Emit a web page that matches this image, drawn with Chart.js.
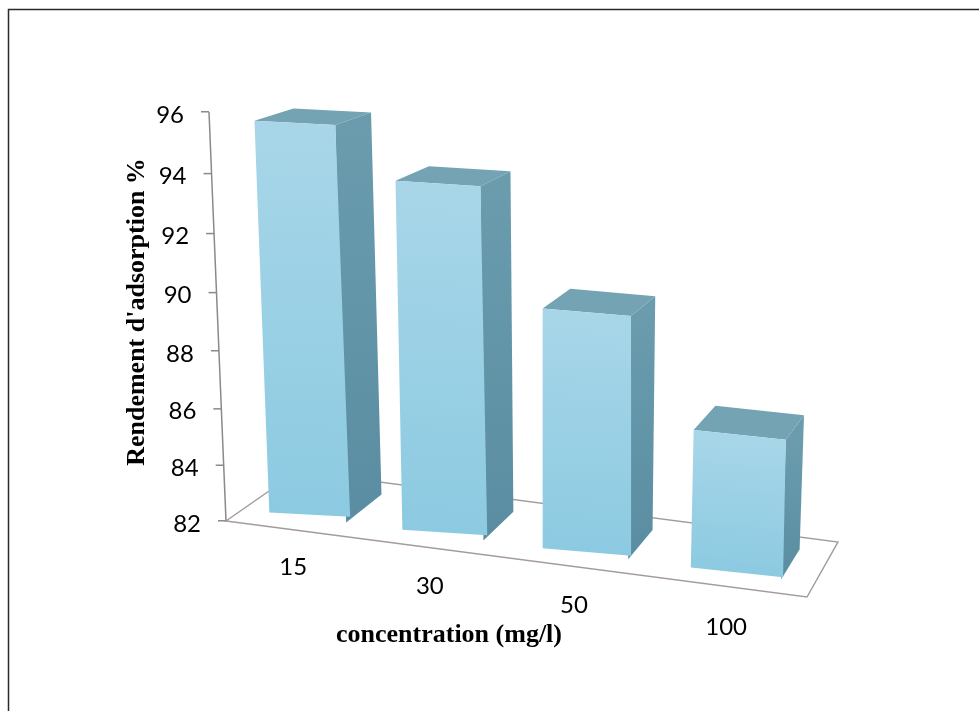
<!DOCTYPE html>
<html>
<head>
<meta charset="utf-8">
<script src="https://cdn.jsdelivr.net/npm/chart.js@4/dist/chart.umd.min.js"></script>
<style>
  html, body { margin: 0; padding: 0; background: #ffffff; }
  #wrap { width: 979px; height: 711px; position: relative; }
</style>
</head>
<body>
<div id="wrap"><canvas id="c" width="979" height="711"></canvas></div>
<script>
// ---- data ----
const categories = ['15', '30', '50', '100'];
const rendement = [95.6, 93.9, 90.1, 86.6];
const yTicks = [82, 84, 86, 88, 90, 92, 94, 96];
const xTitle = 'concentration (mg/l)';
const yTitle = "Rendement d'adsorption %";

// ---- 3-D frame: front plane of the floor / value axis, and the vanishing point of depth ----
const FRAME = {
  q00: [226, 521],   // axis foot (min value, first category side)
  q10: [807, 597],   // floor front-right corner
  q11: [824, 143],   // top right of the front plane
  q01: [209, 112],   // axis top (max value)
  vanish: [1252, -193],
  frontGap: 0.0161,  // depth between floor edge and bar fronts
  barDepth: 0.039,   // depth of each column
  floorDepth: 0.0697,
  labelDrop: 0.0958  // category labels sit below the floor edge
};

const HG = (() => {
  const [x0, y0] = FRAME.q00, [x1, y1] = FRAME.q10, [x2, y2] = FRAME.q11, [x3, y3] = FRAME.q01;
  const dx1 = x1 - x2, dy1 = y1 - y2, dx2 = x3 - x2, dy2 = y3 - y2;
  const dx3 = x0 - x1 + x2 - x3, dy3 = y0 - y1 + y2 - y3;
  const den = dx1 * dy2 - dx2 * dy1;
  const g = (dx3 * dy2 - dx2 * dy3) / den;
  const h = (dx1 * dy3 - dx3 * dy1) / den;
  return { a: x1 - x0 + g * x1, b: x3 - x0 + h * x3, c: x0,
           d: y1 - y0 + g * y1, e: y3 - y0 + h * y3, f: y0, g, h };
})();

// unit square (u along categories, v along values) -> screen
function proj(u, v) {
  const w = HG.g * u + HG.h * v + 1;
  return [(HG.a * u + HG.b * v + HG.c) / w, (HG.d * u + HG.e * v + HG.f) / w];
}
function recede(p, t) {
  return [p[0] + t * (FRAME.vanish[0] - p[0]), p[1] + t * (FRAME.vanish[1] - p[1])];
}
function toUV(chart, px, py) {
  const a = chart.chartArea;
  return [(px - a.left) / (a.right - a.left), (a.bottom - py) / (a.bottom - a.top)];
}

// ---- value axis drawn along the slanted front edge ----
class FrameLinearScale extends Chart.LinearScale {
  _computeLabelItems(area) {
    const items = super._computeLabelItems(area);
    const ca = this.chart.chartArea;
    const tl = this.options.grid.tickLength, pad = this.options.ticks.padding;
    for (const it of items) {
      const o = it.options || it;
      const v = (ca.bottom - o.translation[1]) / (ca.bottom - ca.top);
      const p = proj(0, v);
      o.translation = [p[0] - tl - pad, p[1] + 3];
    }
    return items;
  }
  _computeGridLineItems(area) {
    const items = super._computeGridLineItems(area);
    const ca = this.chart.chartArea;
    const tl = this.options.grid.tickLength;
    for (const it of items) {
      const v = (ca.bottom - it.ty1) / (ca.bottom - ca.top);
      const p = proj(0, v);
      it.tx1 = p[0] - tl; it.tx2 = p[0];
      it.ty1 = p[1]; it.ty2 = p[1];
    }
    return items;
  }
  drawBorder() {
    const b = this.options.border;
    if (!b.display) return;
    const ctx = this.ctx, p0 = proj(0, 0), p1 = proj(0, 1);
    ctx.save();
    ctx.lineWidth = b.width;
    ctx.strokeStyle = b.color;
    ctx.beginPath();
    ctx.moveTo(p0[0], p0[1]);
    ctx.lineTo(p1[0], p1[1]);
    ctx.stroke();
    ctx.restore();
  }
}
FrameLinearScale.id = 'frameLinear';
FrameLinearScale.defaults = Chart.LinearScale.defaults;

// ---- category labels follow the receding floor edge ----
class FrameCategoryScale extends Chart.CategoryScale {
  _computeLabelItems(area) {
    const items = super._computeLabelItems(area);
    const ca = this.chart.chartArea;
    for (const it of items) {
      const o = it.options || it;
      const u = (o.translation[0] - ca.left) / (ca.right - ca.left);
      const p = proj(u, -FRAME.labelDrop);
      o.translation = [p[0], p[1]];
      o.textAlign = 'center';
      o.textBaseline = 'middle';
      it.textOffset = 0;
    }
    return items;
  }
}
FrameCategoryScale.id = 'frameCategory';
FrameCategoryScale.defaults = Chart.CategoryScale.defaults;

Chart.register(FrameLinearScale, FrameCategoryScale);

// front face fill: per-column vertical gradient in chart coordinates
function frontFill(c) {
  const chart = c.chart;
  if (!chart.chartArea || c.parsed === undefined) return '#98cfe4';
  const ys = chart.scales.y;
  const top = ys.getPixelForValue(c.parsed.y), base = ys.getPixelForValue(ys.min);
  const g = chart.ctx.createLinearGradient(0, top, 0, base);
  g.addColorStop(0, '#a8d6e8');
  g.addColorStop(1, '#8ccae1');
  return g;
}

// ---- floor outline + columns as boxes ----
const box3d = {
  id: 'box3d',
  beforeDatasetsDraw(chart) {
    const ctx = chart.ctx;
    const fl = proj(0, 0), fr = proj(1, 0);
    const bl = recede(fl, FRAME.floorDepth), br = recede(fr, FRAME.floorDepth);
    ctx.save();
    ctx.strokeStyle = '#a59b9b';
    ctx.lineWidth = 1.4;
    ctx.beginPath();
    ctx.moveTo(fl[0], fl[1]); ctx.lineTo(fr[0], fr[1]);
    ctx.lineTo(br[0], br[1]); ctx.lineTo(bl[0], bl[1]);
    ctx.closePath();
    ctx.stroke();
    ctx.restore();

    const meta = chart.getDatasetMeta(0);
    meta.data.forEach((el) => {
      const { x, y, base, width } = el.getProps(['x', 'y', 'base', 'width'], true);
      const xl = x - width / 2, xr = x + width / 2;
      const F = (px, py) => recede(proj(...toUV(chart, px, py)), FRAME.frontGap);
      const ftl = F(xl, y), ftr = F(xr, y), fbl = F(xl, base), fbr = F(xr, base);
      const B = (p) => recede(p, FRAME.barDepth);
      const btl = B(ftl), btr = B(ftr), bbr = B(fbr);

      ctx.save();
      // side face
      const sg = ctx.createLinearGradient(0, ftr[1], 0, fbr[1]);
      sg.addColorStop(0, '#6a9cae');
      sg.addColorStop(1, '#5a8da1');
      ctx.fillStyle = sg;
      ctx.beginPath();
      ctx.moveTo(ftr[0], ftr[1]); ctx.lineTo(fbr[0], fbr[1]);
      ctx.lineTo(bbr[0], bbr[1]); ctx.lineTo(btr[0], btr[1]);
      ctx.closePath();
      ctx.fill();
      // top face
      ctx.fillStyle = '#74a3b4';
      ctx.beginPath();
      ctx.moveTo(ftl[0], ftl[1]); ctx.lineTo(ftr[0], ftr[1]);
      ctx.lineTo(btr[0], btr[1]); ctx.lineTo(btl[0], btl[1]);
      ctx.closePath();
      ctx.fill();
      ctx.restore();

      // front face: the bar element itself, mapped onto its face
      const a = (ftr[0] - ftl[0]) / (xr - xl), b = (ftr[1] - ftl[1]) / (xr - xl);
      const c = (fbl[0] - ftl[0]) / (base - y), d = (fbl[1] - ftl[1]) / (base - y);
      const e = ftl[0] - a * xl - c * y, f = ftl[1] - b * xl - d * y;
      ctx.save();
      ctx.transform(a, b, c, d, e, f);
      el.draw(ctx, chart.chartArea);
      ctx.restore();
    });
    return false;
  }
};

// ---- page frame around the figure ----
const pageFrame = {
  id: 'pageFrame',
  afterDraw(chart) {
    const ctx = chart.ctx;
    ctx.save();
    ctx.strokeStyle = '#2b2b2b';
    ctx.lineWidth = 1.5;
    ctx.beginPath();
    ctx.moveTo(8.5, 711);
    ctx.lineTo(8.5, 9.5);
    ctx.lineTo(979, 9.5);
    ctx.stroke();
    ctx.restore();
  }
};

const tickFont = { family: 'Lato', size: 24 };
const titleFont = { family: 'Liberation Serif', size: 26, weight: 'bold' };

new Chart(document.getElementById('c'), {
  type: 'bar',
  data: {
    labels: categories,
    datasets: [{
      data: rendement,
      base: yTicks[0],
      backgroundColor: frontFill,
      borderWidth: 0,
      barPercentage: 0.584,
      categoryPercentage: 1
    }]
  },
  options: {
    responsive: false,
    animation: false,
    events: [],
    layout: { padding: { left: 122, right: 303, top: 73, bottom: 60 } },
    plugins: { legend: { display: false }, tooltip: { enabled: false } },
    scales: {
      x: {
        type: 'frameCategory',
        grid: { display: false },
        border: { display: false },
        ticks: { font: tickFont, color: '#000', maxRotation: 0, autoSkip: false },
        title: { display: true, text: xTitle, font: titleFont, color: '#000', padding: 0 },
        afterFit: (s) => { s.height = 100; }
      },
      y: {
        type: 'frameLinear',
        min: yTicks[0],
        max: yTicks[yTicks.length - 1],
        afterBuildTicks: (s) => { s.ticks = yTicks.map((v) => ({ value: v })); },
        ticks: { font: tickFont, color: '#000', padding: 17 },
        grid: { display: true, drawOnChartArea: false, drawTicks: true, tickLength: 8, color: '#8a8a8a', lineWidth: 1.5 },
        border: { display: true, color: '#8a8a8a', width: 1.5 },
        title: { display: true, text: yTitle, font: titleFont, color: '#000', padding: 0 },
        afterFit: (s) => { s.width = 100; }
      }
    }
  },
  plugins: [box3d, pageFrame]
});
</script>
</body>
</html>
